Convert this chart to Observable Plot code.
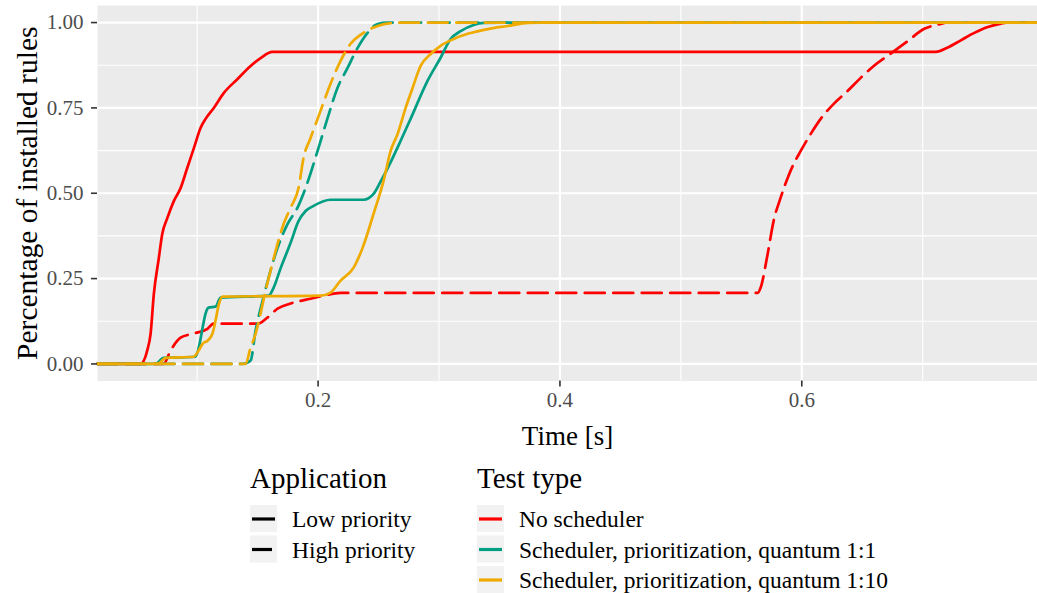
<!DOCTYPE html>
<html><head><meta charset="utf-8">
<script src="https://cdn.jsdelivr.net/npm/d3@7"></script>
<script src="https://cdn.jsdelivr.net/npm/@observablehq/plot@0.6"></script>
<style>
body{margin:0;background:#fff;}
#wrap{position:relative;width:1037px;height:593px;font-family:'Liberation Serif',serif;}
#wrap svg{display:block;}
</style></head><body><div id="wrap"></div>
<script>
// ---------- data ----------
const noSchedLowX = [0.0176, 0.0532, 0.0587, 0.0615, 0.0642, 0.0683, 0.0711, 0.0753, 0.0807, 0.0863, 0.0918, 0.0973, 0.1028, 0.1070, 0.1138, 0.1221, 0.1332, 0.1442, 0.1525, 0.1622, 0.7107, 0.7207, 0.7315, 0.7422, 0.7538, 0.7646, 0.7690, 0.7949];
const noSchedLowY = [0, 0, 0.039, 0.088, 0.205, 0.310, 0.380, 0.427, 0.477, 0.515, 0.574, 0.632, 0.691, 0.718, 0.750, 0.794, 0.834, 0.873, 0.896, 0.914, 0.914, 0.927, 0.948, 0.969, 0.987, 0.997, 1, 1];

const noSchedHighX = [0.0176, 0.0722, 0.0780, 0.0863, 0.0970, 0.1086, 0.1136, 0.1500, 0.1582, 0.1665, 0.1773, 0.1938, 0.2045, 0.2186, 0.5635, 0.5660, 0.5718, 0.5767, 0.5825, 0.5883, 0.5933, 0.5991, 0.6074, 0.6156, 0.6264, 0.6380, 0.6487, 0.6595, 0.6735, 0.6876, 0.7008, 0.7149, 0.7190, 0.7949];
const noSchedHighY = [0, 0, 0.039, 0.077, 0.089, 0.103, 0.118, 0.118, 0.136, 0.162, 0.177, 0.191, 0.200, 0.208, 0.208, 0.224, 0.323, 0.419, 0.487, 0.545, 0.586, 0.624, 0.674, 0.718, 0.762, 0.800, 0.838, 0.873, 0.909, 0.946, 0.981, 0.996, 1, 1];

const q1LowX = [0.0176, 0.0656, 0.0722, 0.0987, 0.1020, 0.1045, 0.1069, 0.1094, 0.1152, 0.1194, 0.1591, 0.1632, 0.1690, 0.1773, 0.1839, 0.1897, 0.1963, 0.2103, 0.2376, 0.2459, 0.2517, 0.2575, 0.2682, 0.2765, 0.2905, 0.3013, 0.3096, 0.3179, 0.3286, 0.3369, 0.3510, 0.7949];
const q1LowY = [0, 0, 0.018, 0.021, 0.059, 0.106, 0.147, 0.165, 0.168, 0.194, 0.200, 0.223, 0.280, 0.355, 0.419, 0.448, 0.463, 0.481, 0.481, 0.498, 0.534, 0.573, 0.653, 0.718, 0.829, 0.897, 0.952, 0.975, 0.993, 0.999, 1, 1];

const q1HighX = [0.0176, 0.1376, 0.1442, 0.1483, 0.1541, 0.1591, 0.1665, 0.1748, 0.1830, 0.1897, 0.1996, 0.2079, 0.2161, 0.2244, 0.2327, 0.2409, 0.2492, 0.2575, 0.7949];
const q1HighY = [0, 0, 0.010, 0.097, 0.185, 0.253, 0.340, 0.410, 0.458, 0.516, 0.624, 0.721, 0.809, 0.867, 0.926, 0.970, 0.996, 1, 1];

const q10LowX = [0.0176, 0.0674, 0.0740, 0.0970, 0.1012, 0.1045, 0.1086, 0.1127, 0.1152, 0.1177, 0.1210, 0.2021, 0.2103, 0.2186, 0.2294, 0.2368, 0.2459, 0.2542, 0.2600, 0.2658, 0.2724, 0.2782, 0.2848, 0.2931, 0.3013, 0.3121, 0.3237, 0.3402, 0.3567, 0.3733, 0.3840, 0.7949];
const q10LowY = [0, 0, 0.018, 0.021, 0.039, 0.059, 0.068, 0.089, 0.127, 0.171, 0.197, 0.200, 0.209, 0.244, 0.282, 0.340, 0.440, 0.537, 0.624, 0.674, 0.750, 0.809, 0.873, 0.908, 0.932, 0.952, 0.967, 0.981, 0.990, 0.999, 1, 1];

const q10HighX = [0.0176, 0.1400, 0.1442, 0.1483, 0.1524, 0.1566, 0.1607, 0.1665, 0.1715, 0.1773, 0.1839, 0.1880, 0.1938, 0.2021, 0.2103, 0.2186, 0.2269, 0.2376, 0.2492, 0.2624, 0.2724, 0.7949];
const q10HighY = [0, 0, 0.048, 0.088, 0.147, 0.215, 0.273, 0.352, 0.410, 0.458, 0.516, 0.604, 0.662, 0.742, 0.821, 0.888, 0.938, 0.970, 0.990, 0.999, 1, 1];

const testTypes = ["No scheduler", "Scheduler, prioritization, quantum 1:1", "Scheduler, prioritization, quantum 1:10"];
const testColors = ["#FF0000", "#009E82", "#EFAB00"];
const applications = ["Low priority", "High priority"];
const xTicks = [0.2, 0.4, 0.6];
const xMinor = [0.1, 0.3, 0.5, 0.7];
const yTicks = [0, 0.25, 0.5, 0.75, 1];
const yMinor = [0.125, 0.375, 0.625, 0.875];
const xTitle = "Time [s]";
const yTitle = "Percentage of installed rules";
const legendTitles = ["Application", "Test type"];

// ---------- build ----------
const seriesDefs = [
  [testTypes[0], applications[0], noSchedLowX, noSchedLowY],
  [testTypes[0], applications[1], noSchedHighX, noSchedHighY],
  [testTypes[1], applications[0], q1LowX, q1LowY],
  [testTypes[1], applications[1], q1HighX, q1HighY],
  [testTypes[2], applications[0], q10LowX, q10LowY],
  [testTypes[2], applications[1], q10HighX, q10HighY]
];
const DASH = "20,8.5";
const lineMarks = seriesDefs.map(([type, app, xs, ys]) =>
  Plot.line(xs.map((x, i) => ({x, y: ys[i], type, app})), {
    x: "x", y: "y", stroke: "type", strokeWidth: 2.7, curve: "monotone-x",
    strokeDasharray: app === applications[1] ? DASH : null,
    strokeLinejoin: "round"
  })
);

const W = 1037, H = 452;
const plot = Plot.plot({
  width: W, height: H,
  marginLeft: 97, marginRight: 0, marginTop: 5, marginBottom: H - 380.5,
  style: {fontFamily: "'Liberation Serif', serif", background: "white", overflow: "visible"},
  x: {domain: [0.0176, 0.7949], label: null},
  y: {domain: [-0.05, 1.05], label: null},
  color: {domain: testTypes, range: testColors, legend: false},
  marks: [
    Plot.frame({fill: "#EBEBEB", stroke: null}),
    Plot.gridX(xMinor, {stroke: "white", strokeOpacity: 1, strokeWidth: 1.1}),
    Plot.gridY(yMinor, {stroke: "white", strokeOpacity: 1, strokeWidth: 1.1}),
    Plot.gridX(xTicks, {stroke: "white", strokeOpacity: 1, strokeWidth: 2.2}),
    Plot.gridY(yTicks, {stroke: "white", strokeOpacity: 1, strokeWidth: 2.2}),
    ...lineMarks,
    Plot.axisX(xTicks, {tickFormat: d3.format(".1f"), tickSize: 6, tickPadding: 5, fontSize: 21,
      stroke: "#333333", fill: "#4D4D4D", strokeWidth: 1.6, label: null}),
    Plot.axisY(yTicks, {tickFormat: d3.format(".2f"), tickSize: 6, tickPadding: 8, fontSize: 21,
      stroke: "#333333", fill: "#4D4D4D", strokeWidth: 1.6, label: null}),
    Plot.text([xTitle], {frameAnchor: "bottom", dy: 55, fontSize: 27, fill: "black", lineAnchor: "middle", textAnchor: "middle"}),
    Plot.text([yTitle], {frameAnchor: "left", dx: -70, rotate: -90, fontSize: 29.5, fill: "black", lineAnchor: "middle", textAnchor: "middle"})
  ]
});
const wrap = document.getElementById("wrap");
wrap.appendChild(plot);

// ---------- legend (below the chart) ----------
const LH = 593 - H;
const leg = d3.select(wrap).append("svg")
  .attr("width", W).attr("height", LH)
  .style("font-family", "'Liberation Serif', serif");
const oy = -H; // convert page y to legend y
const groups = [
  {title: legendTitles[0], x: 250, items: applications.map((a, i) => ({label: a, color: "black", dash: i === 1}))},
  {title: legendTitles[1], x: 477, items: testTypes.map((t, i) => ({label: t, color: testColors[i], dash: false}))}
];
groups.forEach(g => {
  leg.append("text").attr("x", g.x).attr("y", 488 + oy).attr("font-size", 29).attr("fill", "black").text(g.title);
  g.items.forEach((it, i) => {
    const top = 505 + i * 30.5;
    leg.append("rect").attr("x", g.x).attr("y", top + oy).attr("width", 27).attr("height", 27).attr("fill", "#F2F2F2");
    leg.append("line")
      .attr("x1", g.x + 2).attr("x2", g.x + (it.dash ? 22 : 25))
      .attr("y1", top + 14 + oy).attr("y2", top + 14 + oy)
      .attr("stroke", it.color).attr("stroke-width", 3.2);
    leg.append("text").attr("x", g.x + 42).attr("y", top + 22 + oy).attr("font-size", 23.5).attr("fill", "black").text(it.label);
  });
});
</script></body></html>
